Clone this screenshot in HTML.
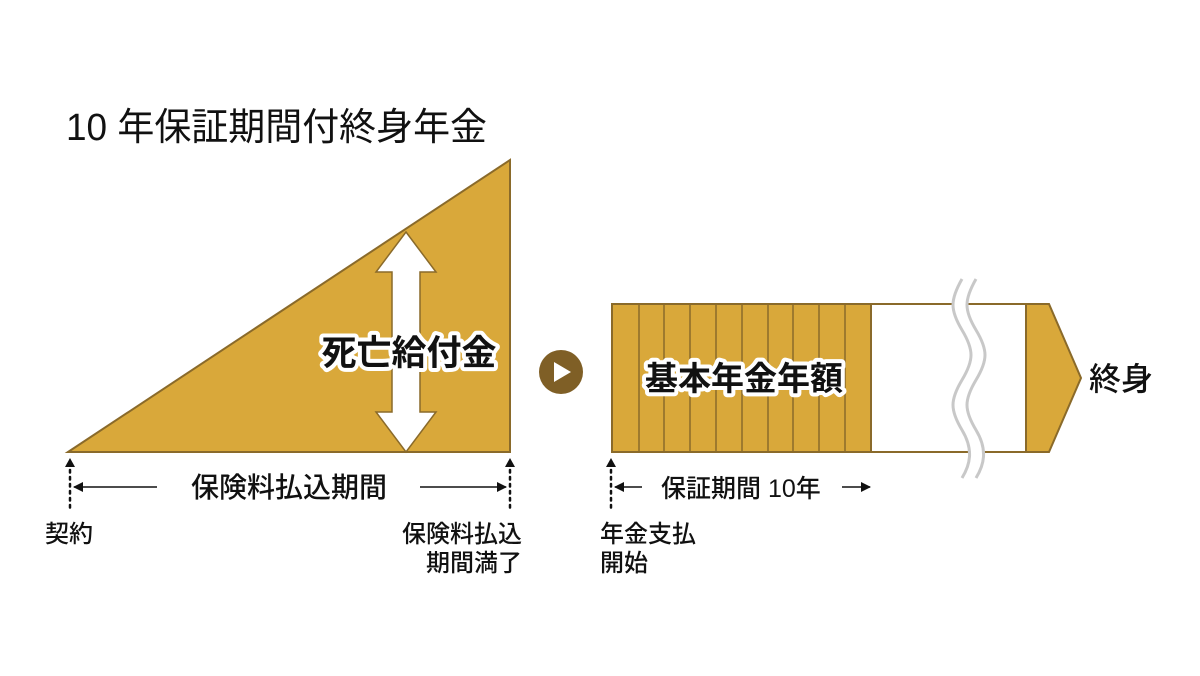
<!DOCTYPE html>
<html><head><meta charset="utf-8"><style>
html,body{margin:0;padding:0;background:#fff;}
svg{display:block;}
text{font-family:"Liberation Sans","Noto Sans CJK JP",sans-serif;fill:#111;}
.b{font-weight:bold;}
.m{font-weight:500;}
.halo{stroke:#fff;stroke-width:8px;stroke-linejoin:round;paint-order:stroke;}
</style></head><body>
<svg width="1200" height="676" viewBox="0 0 1200 676" xmlns="http://www.w3.org/2000/svg">
<defs>
<marker id="ah" markerWidth="10" markerHeight="10" refX="9" refY="5" orient="auto" markerUnits="userSpaceOnUse"><path d="M0,0 L10,5 L0,10 z" fill="#111"/></marker>
</defs>
<text x="66" y="140" font-size="38" textLength="421" lengthAdjust="spacingAndGlyphs">10 年保証期間付終身年金</text>

<polygon points="68,452 510,160 510,452" fill="#d9a83a" stroke="#8a6a2a" stroke-width="2"/>
<polygon points="406,232 436,272 420,272 420,412 436,412 406,452 376,412 392,412 392,272 376,272" fill="#fff" stroke="#8a6a2a" stroke-width="1.5"/>
<text x="409" y="365" font-size="35" class="b halo" text-anchor="middle">死亡給付金</text>

<circle cx="561" cy="372" r="22" fill="#7f5f26"/>
<polygon points="554,362 554,382 571,372" fill="#fff"/>

<rect x="612" y="304" width="259" height="148" fill="#d9a83a" stroke="#8a6a2a" stroke-width="2"/>
<g stroke="#8a6a2a" stroke-width="1.5">
<line x1="639" y1="304" x2="639" y2="452"/><line x1="664" y1="304" x2="664" y2="452"/>
<line x1="690" y1="304" x2="690" y2="452"/><line x1="716" y1="304" x2="716" y2="452"/>
<line x1="742" y1="304" x2="742" y2="452"/><line x1="768" y1="304" x2="768" y2="452"/>
<line x1="793" y1="304" x2="793" y2="452"/><line x1="819" y1="304" x2="819" y2="452"/>
<line x1="845" y1="304" x2="845" y2="452"/>
</g>
<rect x="871" y="304" width="155" height="148" fill="#fff" stroke="#8a6a2a" stroke-width="2"/>
<polygon points="1026,304 1049,304 1081,378 1049,452 1026,452" fill="#d9a83a" stroke="#8a6a2a" stroke-width="2"/>
<path d="M962,279 C950,300 950,310 962,330 C974,350 974,360 962,380 C950,400 950,410 962,430 C974,450 970,465 962,478 L976,478 C984,465 988,450 976,430 C964,410 964,400 976,380 C988,360 988,350 976,330 C964,310 964,300 976,279 Z" fill="#fff"/>
<path d="M962,279 C950,300 950,310 962,330 C974,350 974,360 962,380 C950,400 950,410 962,430 C974,450 970,465 962,478" fill="none" stroke="#c8c8c8" stroke-width="3"/>
<path d="M976,279 C964,300 964,310 976,330 C988,350 988,360 976,380 C964,400 964,410 976,430 C988,450 984,465 976,478" fill="none" stroke="#c8c8c8" stroke-width="3"/>
<text x="744" y="390" font-size="33" class="b halo" text-anchor="middle">基本年金年額</text>
<text x="1089" y="390" font-size="32" class="m">終身</text>

<line x1="70" y1="470" x2="70" y2="512" stroke="#111" stroke-width="2.5" stroke-dasharray="2.5 4.5" stroke-linecap="round"/>
<polygon points="70,458 65,467 75,467" fill="#111"/>
<line x1="510" y1="470" x2="510" y2="512" stroke="#111" stroke-width="2.5" stroke-dasharray="2.5 4.5" stroke-linecap="round"/>
<polygon points="510,458 505,467 515,467" fill="#111"/>
<line x1="157" y1="487" x2="74" y2="487" stroke="#111" stroke-width="1.5" marker-end="url(#ah)"/>
<line x1="420" y1="487" x2="506" y2="487" stroke="#111" stroke-width="1.5" marker-end="url(#ah)"/>
<text x="289" y="497" font-size="28" class="m" text-anchor="middle">保険料払込期間</text>
<text x="45" y="542" font-size="24" class="m">契約</text>
<text x="522" y="542" font-size="24" class="m" text-anchor="end">保険料払込</text>
<text x="522" y="571" font-size="24" class="m" text-anchor="end">期間満了</text>

<line x1="611" y1="470" x2="611" y2="512" stroke="#111" stroke-width="2.5" stroke-dasharray="2.5 4.5" stroke-linecap="round"/>
<polygon points="611,458 606,467 616,467" fill="#111"/>
<line x1="642" y1="487" x2="615" y2="487" stroke="#111" stroke-width="1.5" marker-end="url(#ah)"/>
<line x1="842" y1="487" x2="870" y2="487" stroke="#111" stroke-width="1.5" marker-end="url(#ah)"/>
<text x="661" y="497" font-size="25" class="m">保証期間 10年</text>
<text x="600" y="542" font-size="24" class="m">年金支払</text>
<text x="600" y="571" font-size="24" class="m">開始</text>
</svg>
</body></html>
